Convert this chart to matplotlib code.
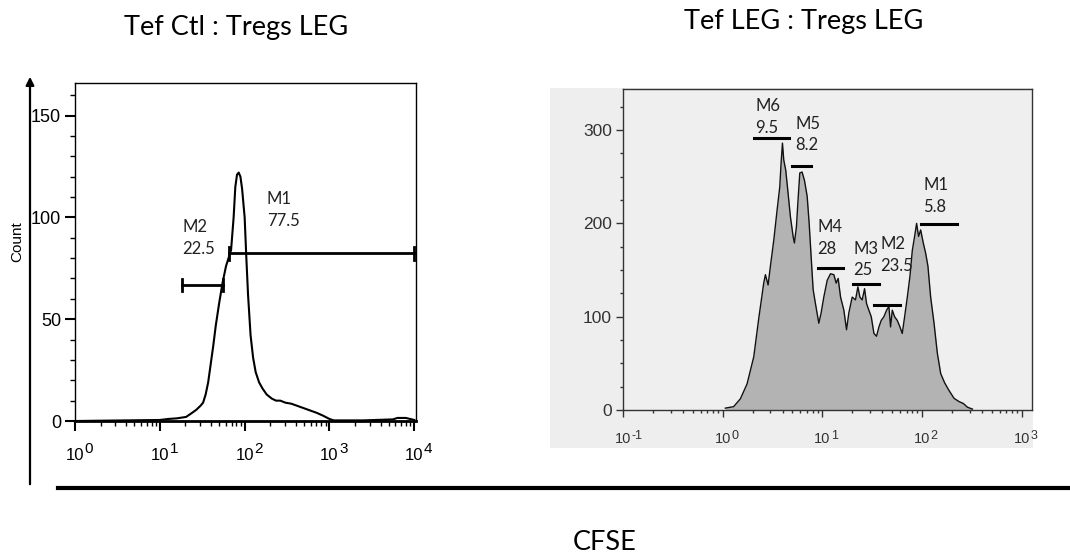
import numpy as np
import matplotlib.pyplot as plt
from matplotlib.ticker import MultipleLocator, LogLocator, NullFormatter
from matplotlib.lines import Line2D
from matplotlib.patches import Rectangle, FancyArrowPatch

plt.rcParams['font.family'] = ['Liberation Sans', 'DejaVu Sans']

label_font = ['Lato', 'DejaVu Sans']

# left histogram: Tef Ctl : Tregs LEG  (log10 CFSE, count)
ctl_log = [0.0, 1.00, 1.10, 1.20, 1.31, 1.38, 1.43, 1.48, 1.51, 1.54, 1.57, 1.60, 1.63,
           1.66, 1.70, 1.74, 1.78, 1.81, 1.84, 1.87, 1.89, 1.91, 1.93, 1.95, 1.97,
           2.00, 2.02, 2.04, 2.07, 2.10, 2.13, 2.17, 2.21, 2.26, 2.32, 2.37, 2.42,
           2.48, 2.55, 2.65, 2.75, 2.85, 2.93, 3.00, 3.05, 3.40, 3.75, 3.80, 3.90,
           3.95, 4.00]
ctl_count = [0, 0.5, 1, 1.3, 2, 4, 5.5, 7.5, 9, 13, 19, 28, 37,
             47, 58, 68, 76, 80, 84, 100, 115, 121, 122, 120, 114,
             100, 80, 62, 42, 31, 24, 19, 16, 13, 11, 10, 10,
             9, 8.5, 7, 5.5, 4, 2.5, 1, 0.3, 0.3, 0.8, 1.5, 1.5,
             1, 0.5]
ctl_decades = [0, 1, 2, 3, 4]

# right histogram: Tef LEG : Tregs LEG
leg_log = [0.027, 0.11, 0.178, 0.245, 0.312, 0.362, 0.412, 0.429, 0.456, 0.479, 0.513,
           0.546, 0.573, 0.586, 0.600, 0.613, 0.633, 0.653, 0.680, 0.707, 0.720, 0.740,
           0.754, 0.774, 0.797, 0.821, 0.848, 0.868, 0.888, 0.908, 0.931, 0.965, 0.988,
           1.015, 1.049, 1.082, 1.116, 1.139, 1.159, 1.183, 1.216, 1.243, 1.266, 1.300,
           1.333, 1.357, 1.377, 1.400, 1.424, 1.444, 1.467, 1.491, 1.518, 1.544, 1.568,
           1.591, 1.618, 1.645, 1.668, 1.685, 1.702, 1.725, 1.752, 1.779, 1.802, 1.826,
           1.853, 1.879, 1.903, 1.926, 1.946, 1.966, 1.987, 2.013, 2.037, 2.060, 2.087,
           2.121, 2.154, 2.188, 2.228, 2.271, 2.322, 2.372, 2.415, 2.456, 2.506]
leg_count = [2, 3.6, 12, 28, 57, 98, 136, 145, 134, 154, 182,
             214, 239, 264, 286, 268, 257, 236, 207, 186, 179, 196,
             221, 254, 255, 246, 229, 200, 164, 129, 114, 93, 104,
             121, 139, 146, 145, 136, 141, 121, 107, 86, 104, 121,
             118, 132, 121, 118, 130, 114, 107, 100, 82, 79, 89,
             96, 100, 107, 111, 89, 107, 100, 96, 89, 82, 100,
             121, 143, 171, 186, 200, 186, 193, 179, 168, 154, 121,
             93, 61, 39, 29, 21, 12.5, 9, 7, 3, 1]
leg_decades = [-1, 0, 1, 2, 3]

# marker gates: (name, value, log start, log end, height)
ctl_gates = [('M2', '22.5', 1.266, 1.75, 66.7), ('M1', '77.5', 1.82, 4.0, 82.3)]
ctl_text = [(1.266, 80.5), (2.26, 94.4)]
leg_gates = [('M6', '9.5', 0.31, 0.663, 292), ('M5', '8.2', 0.697, 0.888, 261),
             ('M4', '28', 0.955, 1.21, 152.5), ('M3', '25', 1.31, 1.568, 135),
             ('M2', '23.5', 1.518, 1.779, 112.5), ('M1', '5.8', 1.987, 2.355, 199)]
leg_text = [(0.328, 294), (0.73, 275), (0.948, 164), (1.31, 141), (1.585, 146), (2.013, 209)]


def decade_labels(ax, decades, size, sup_size, base_dy, sup_dy, color):
    # "10" centred on the tick, exponent raised to its right
    half = 1.112 * size / 2
    for k in decades:
        ax.annotate('10', xy=(10.0 ** k, 0), xycoords=('data', 'axes fraction'),
                    xytext=(0, -base_dy), textcoords='offset points',
                    ha='center', va='baseline', fontsize=size, color=color,
                    annotation_clip=False)
        ax.annotate(str(k), xy=(10.0 ** k, 0), xycoords=('data', 'axes fraction'),
                    xytext=(half + 0.3, -sup_dy), textcoords='offset points',
                    ha='left', va='baseline', fontsize=sup_size, color=color,
                    annotation_clip=False)


W, H = 1070, 554
fig = plt.figure(figsize=(W / 100, H / 100), dpi=100)

# ---- left panel
ax1 = fig.add_axes([75 / W, 1 - 421 / H, 341 / W, 338 / H])
ax1.plot(10 ** np.array(ctl_log), ctl_count, color='black', lw=1.5)
ax1.set_xscale('log')
ax1.set_xlim(1, 10 ** 4.02)
ax1.set_ylim(0, 166)
ax1.set_yticks([0, 50, 100, 150])
ax1.yaxis.set_minor_locator(MultipleLocator(10))
ax1.xaxis.set_major_locator(LogLocator(base=10, numticks=10))
ax1.xaxis.set_minor_locator(LogLocator(base=10, subs=np.arange(2, 10), numticks=20))
ax1.xaxis.set_major_formatter(NullFormatter())
ax1.xaxis.set_minor_formatter(NullFormatter())
ax1.tick_params(which='major', direction='out', length=7, width=1.5, labelsize=13, pad=3)
ax1.tick_params(which='minor', direction='out', length=3.5, width=1)
decade_labels(ax1, ctl_decades, 12, 11, 28, 23, 'black')
ax1.set_ylabel('Count', fontsize=11, labelpad=4)
ax1.yaxis.set_label_coords(-0.15, 0.53)
for s in ax1.spines.values():
    s.set_linewidth(1)
ax1.spines['bottom'].set_linewidth(2)
for (name, val, a, b, h), (tx, ty) in zip(ctl_gates, ctl_text):
    ax1.plot([10 ** a, 10 ** b], [h, h], color='black', lw=2)
    for e in (a, b):
        ax1.plot([10 ** e, 10 ** e], [h - 3, h + 3], color='black', lw=2)
    ax1.text(10 ** tx, ty, name + '\n' + val, fontsize=12, family=label_font,
             va='bottom', ha='left', linespacing=1.45, color='#222222')

# ---- right panel
fig.add_artist(Rectangle((550 / W, 1 - 448 / H), 483 / W, 360 / H,
                         transform=fig.transFigure, facecolor='#eeeeee',
                         edgecolor='none', zorder=0))
ax2 = fig.add_axes([623 / W, 1 - 410 / H, 409 / W, 321 / H])
ax2.set_facecolor('#efefef')
lx = 10 ** np.array(leg_log)
ax2.fill_between(lx, leg_count, 0, color='#b3b3b3', lw=0)
ax2.plot(lx, leg_count, color='#111111', lw=1)
ax2.set_xscale('log')
ax2.set_xlim(0.1, 10 ** 3.104)
ax2.set_ylim(0, 344)
ax2.set_yticks([0, 100, 200, 300])
ax2.yaxis.set_minor_locator(MultipleLocator(25))
ax2.xaxis.set_major_locator(LogLocator(base=10, numticks=10))
ax2.xaxis.set_minor_locator(LogLocator(base=10, subs=np.arange(2, 10), numticks=20))
ax2.xaxis.set_major_formatter(NullFormatter())
ax2.xaxis.set_minor_formatter(NullFormatter())
ax2.tick_params(which='major', direction='out', length=5, width=1, labelsize=12.5, pad=3,
                colors='#333333')
ax2.tick_params(which='minor', direction='out', length=2.5, width=1, colors='#333333')
decade_labels(ax2, leg_decades, 10.5, 9, 24, 21, '#333333')
for s in ax2.spines.values():
    s.set_linewidth(1)
    s.set_color('#333333')
for (name, val, a, b, h), (tx, ty) in zip(leg_gates, leg_text):
    ax2.plot([10 ** a, 10 ** b], [h, h], color='black', lw=2.2)
    ax2.text(10 ** tx, ty, name + '\n' + val, fontsize=12, family=label_font,
             va='bottom', ha='left', linespacing=1.45, color='#222222')

# ---- titles and outer axis arrows
fig.text(236 / W, 1 - 27 / H, 'Tef Ctl : Tregs LEG', fontsize=19.5, family=label_font,
         ha='center', va='center')
fig.text(804 / W, 1 - 22 / H, 'Tef LEG : Tregs LEG', fontsize=19.5, family=label_font,
         ha='center', va='center')
fig.text(605 / W, 1 - 543 / H, 'CFSE', fontsize=19.5, family=label_font,
         ha='center', va='center')

fig.add_artist(FancyArrowPatch((30 / W, 1 - 487 / H), (30 / W, 1 - 74 / H),
                               transform=fig.transFigure, arrowstyle='-|>',
                               mutation_scale=12, lw=1.6, color='black'))
fig.add_artist(Line2D([58 / W, 1.0], [1 - 488 / H, 1 - 488 / H],
                      transform=fig.transFigure, color='black', lw=3))

fig.savefig('out.png', dpi=100)
